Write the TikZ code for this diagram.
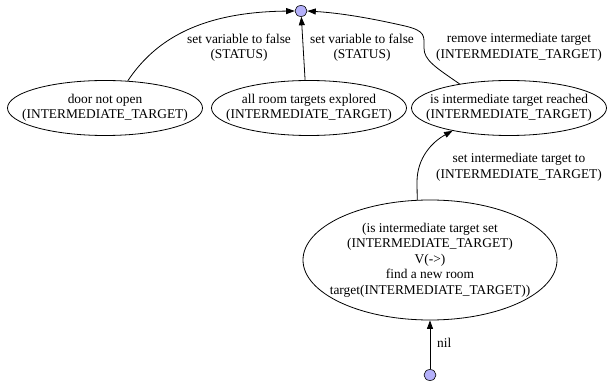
\documentclass[tikz,border=0pt]{standalone}
\usepackage{fontspec}
\setmainfont{Liberation Serif}
\usetikzlibrary{shapes.geometric,arrows.meta}

\definecolor{dotfill}{RGB}{180,176,250}

\tikzset{
  statebox/.style={draw, ellipse, line width=0.8pt, inner sep=0pt,
    minimum width=195pt, minimum height=55pt},
  bigstate/.style={draw, ellipse, line width=0.8pt, inner sep=0pt,
    minimum width=254pt, minimum height=120pt},
  txt/.style={align=center, inner sep=0pt, font=\fontsize{13.4}{15.5}\selectfont},
  lbl/.style={align=center, inner sep=0pt, font=\fontsize{13.4}{15.5}\selectfont},
  dot/.style={draw, ellipse, fill=dotfill, line width=0.6pt, inner sep=0pt,
    minimum width=12pt, minimum height=11pt},
  edge/.style={line width=0.8pt, -{Triangle[length=8.5pt,width=6pt]}},
}

\begin{document}
\begin{tikzpicture}[x=1pt, y=-1pt]
\useasboundingbox (0,0) rectangle (608,382);

% terminal points
\node[dot] (top) at (301,11) {};
\node[dot] (bot) at (430,375) {};

% states of the upper row
\node[statebox] (nA) at (105,108) {};
\node[txt] (tA) at (nA.center) {door not open\\(INTERMEDIATE\_TARGET)};
\node[statebox] (nB) at (309,108) {};
\node[txt] (tB) at (nB.center) {all room targets explored\\(INTERMEDIATE\_TARGET)};
\node[statebox] (nC) at (509,108) {};
\node[txt] (tC) at (nC.center) {is intermediate target reached\\(INTERMEDIATE\_TARGET)};

% lower composite state
\node[bigstate] (nD) at (430,260) {};
\node[txt] (tD) at (nD.center) {(is intermediate target set\\(INTERMEDIATE\_TARGET)\\V(->)\\find a new room\\target(INTERMEDIATE\_TARGET))};

% transitions
\draw[edge] (nA.50) .. controls (155,40) and (200,12) .. (top.west);
\draw[edge] (nB.98) -- (top);
\draw[edge] (nC.154) .. controls (435,67) and (424,60) .. (424,48)
  .. controls (424,36) and (426,31) .. (405,26)
  .. controls (370,18) and (340,13) .. (top.east);
\draw[edge] (nD.102) -- (417,182) .. controls (417,158) and (432,142) .. (nC.202);
\draw[edge] (bot) -- (nD.south);

% transition labels
\node[lbl] (lA) at (239,47.5) {set variable to false\\(STATUS)};
\node[lbl] (lB) at (362,47.5) {set variable to false\\(STATUS)};
\node[lbl] (lC) at (519,47.5) {remove intermediate target\\(INTERMEDIATE\_TARGET)};
\node[lbl] (lD) at (519,167.5) {set intermediate target to\\(INTERMEDIATE\_TARGET)};
\node[lbl, anchor=west] (lE) at (437,343) {nil};
\end{tikzpicture}
\end{document}
